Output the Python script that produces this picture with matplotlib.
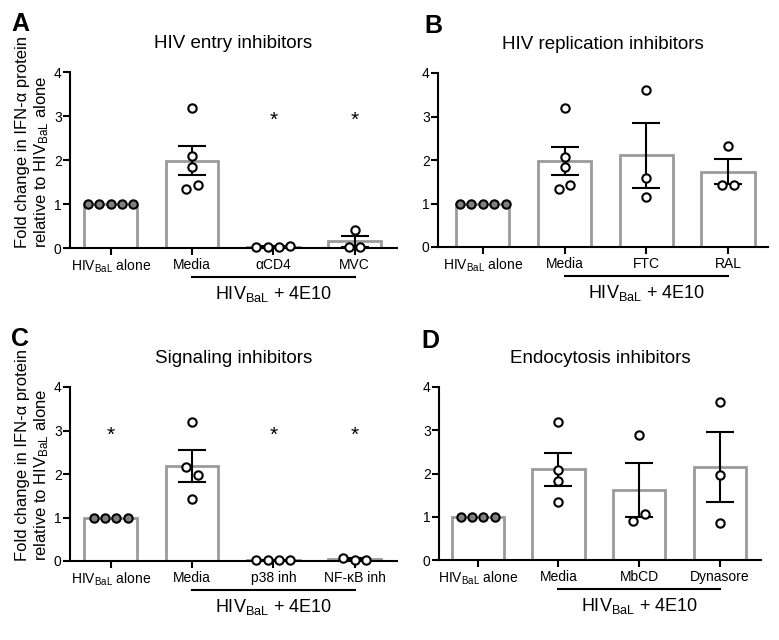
import matplotlib
matplotlib.use("Agg")
import matplotlib.pyplot as plt
import numpy as np

plt.rcParams["font.family"] = ["Liberation Sans", "DejaVu Sans"]
plt.rcParams["mathtext.fontset"] = "custom"
plt.rcParams["mathtext.rm"] = "Liberation Sans"
plt.rcParams["mathtext.it"] = "Liberation Sans:italic"

# ---- data ----
alone_lbl = "HIV$_{\\rm BaL}$ alone"

a_title = "HIV entry inhibitors"
a_cats = [alone_lbl, "Media", "αCD4", "MVC"]
a_means = [1.0, 1.98, 0.03, 0.15]
a_sem = [0.0, 0.33, 0.01, 0.12]
a_points = [[1, 1, 1, 1, 1], [3.19, 2.08, 1.84, 1.33, 1.43],
            [0.02, 0.02, 0.02, 0.05], [0.40, 0.02, 0.03]]
a_stars = [2, 3]

b_title = "HIV replication inhibitors"
b_cats = [alone_lbl, "Media", "FTC", "RAL"]
b_means = [1.0, 1.98, 2.11, 1.73]
b_sem = [0.0, 0.33, 0.75, 0.29]
b_points = [[1, 1, 1, 1, 1], [3.19, 2.08, 1.83, 1.33, 1.43],
            [3.60, 1.58, 1.16], [2.32, 1.43, 1.43]]
b_stars = []

c_title = "Signaling inhibitors"
c_cats = [alone_lbl, "Media", "p38 inh", "NF-κB inh"]
c_means = [1.0, 2.19, 0.02, 0.04]
c_sem = [0.0, 0.37, 0.005, 0.02]
c_points = [[1, 1, 1, 1], [3.20, 2.16, 1.97, 1.42],
            [0.02, 0.02, 0.02, 0.03], [0.08, 0.02, 0.03]]
c_stars = [0, 2, 3]

d_title = "Endocytosis inhibitors"
d_cats = [alone_lbl, "Media", "MbCD", "Dynasore"]
d_means = [1.0, 2.1, 1.62, 2.15]
d_sem = [0.0, 0.38, 0.63, 0.82]
d_points = [[1, 1, 1, 1], [3.18, 2.08, 1.82, 1.35],
            [2.88, 0.90, 1.07], [3.65, 1.96, 0.85]]
d_stars = []

group_label = "HIV$_{\\rm BaL}$ + 4E10"
ylabel = "Fold change in IFN-α protein\nrelative to HIV$_{\\rm BaL}$ alone"

W, H = 779, 640
BAR_EDGE = "#9a9a9a"


def swarm_offsets(values, step=0.14, gap=0.23):
    # spread points that would overlap, keeping their listed order left to right
    order = sorted(range(len(values)), key=lambda i: values[i])
    clusters = []
    for i in order:
        if clusters and values[i] - values[clusters[-1][-1]] < gap:
            clusters[-1].append(i)
        else:
            clusters.append([i])
    offs = [0.0] * len(values)
    for c in clusters:
        c = sorted(c)
        for k, i in enumerate(c):
            offs[i] = (k - (len(c) - 1) / 2) * step
    return offs


def panel(box, xlim, letter, letter_xy, title, cats, means, sem, points, stars, show_ylabel):
    l, t, r, b = box
    ax = fig.add_axes([l / W, 1 - b / H, (r - l) / W, (b - t) / H])
    h_px = b - t
    x = np.arange(len(cats))

    ax.bar(x, means, width=0.65, color="white", edgecolor=BAR_EDGE, linewidth=2.0, zorder=1)
    ax.errorbar(x[1:], means[1:], yerr=sem[1:], fmt="none", ecolor="black",
                elinewidth=1.5, capsize=10, capthick=1.5, zorder=3)
    for i, vals in enumerate(points):
        offs = swarm_offsets(vals)
        face = "#808080" if i == 0 else "white"
        ax.plot(x[i] + np.array(offs), vals, "o", ms=6, mfc=face, mec="black",
                mew=1.5, zorder=4, clip_on=False)
    for i in stars:
        ax.text(x[i], 2.9, "*", ha="center", va="center", fontsize=15, zorder=5)

    ax.set_xlim(*xlim)
    ax.set_ylim(0, 4)
    ax.set_yticks([0, 1, 2, 3, 4])
    ax.set_xticks(x)
    ax.set_xticklabels(cats, fontsize=10)
    ax.tick_params(axis="y", labelsize=10, length=5, width=1.5, pad=1)
    ax.tick_params(axis="x", length=5, width=1.5, pad=2)
    for s in ["top", "right"]:
        ax.spines[s].set_visible(False)
    for s in ["left", "bottom"]:
        ax.spines[s].set_linewidth(1.5)

    ax.text(0.5, 1 + 24 / h_px, title, transform=ax.transAxes, ha="center",
            va="baseline", fontsize=13.5)

    tr = ax.get_xaxis_transform()
    ax.plot([1, 3], [-29 / h_px] * 2, color="black", lw=1.5, transform=tr, clip_on=False)
    ax.text(2, -51 / h_px, group_label, transform=tr, ha="center", va="baseline", fontsize=13)

    fig.text(letter_xy[0] / W, 1 - letter_xy[1] / H, letter, fontsize=18,
             fontweight="bold", ha="left", va="top")
    if show_ylabel:
        fig.text(33 / W, 1 - b / H, ylabel, rotation=90, ha="center", va="bottom",
                 multialignment="left", fontsize=12, linespacing=1.2)
    return ax


fig = plt.figure(figsize=(W / 100, H / 100), dpi=100)

panel((70, 72, 397, 248), (-0.5, 3.52), "A", (11, 12), a_title, a_cats, a_means,
      a_sem, a_points, a_stars, True)
panel((438, 73, 768, 247), (-0.55, 3.49), "B", (424, 14), b_title, b_cats, b_means,
      b_sem, b_points, b_stars, False)
panel((70, 387, 397, 561), (-0.5, 3.52), "C", (11, 327), c_title, c_cats, c_means,
      c_sem, c_points, c_stars, True)
panel((439, 387, 761, 560), (-0.48, 3.51), "D", (421, 329), d_title, d_cats, d_means,
      d_sem, d_points, d_stars, False)

fig.savefig("out.png", dpi=100)
